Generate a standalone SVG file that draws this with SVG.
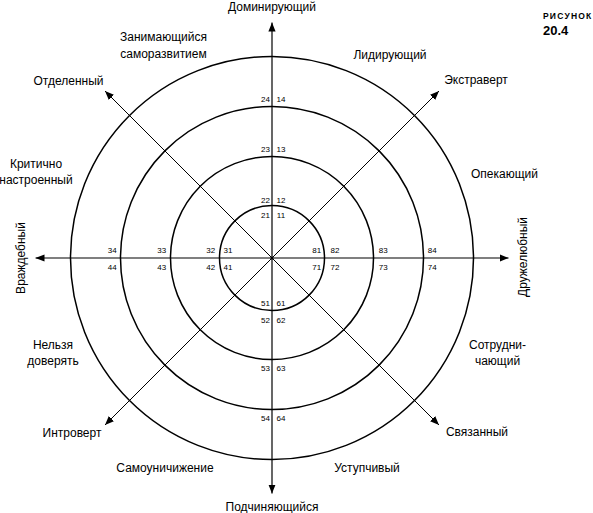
<svg xmlns="http://www.w3.org/2000/svg" width="593" height="513" viewBox="0 0 593 513">
<style>
.ring{fill:none;stroke:#000;stroke-width:1.5}
.ax{stroke:#000;stroke-width:1.2;fill:none}
.dg{stroke:#000;stroke-width:1;fill:none}
.lb{font-family:"Liberation Sans",Arial,sans-serif;font-size:12px;fill:#000;text-anchor:middle}
.nm{font-family:"Liberation Sans",Arial,sans-serif;font-size:8px;fill:#000;text-anchor:middle}
.fig{font-family:"Liberation Sans",Arial,sans-serif;font-weight:bold;fill:#000}
</style>
<defs>
<marker id="ah" viewBox="0 0 10 10" refX="10" refY="5" markerWidth="9" markerHeight="9" markerUnits="userSpaceOnUse" orient="auto">
<path d="M0,1 L10,5 L0,9 Z" fill="#000"/>
</marker>
</defs>
<rect width="593" height="513" fill="#fff"/>
<g id="rings">
<circle class="ring" cx="272" cy="258" r="52.5"/>
<circle class="ring" cx="272" cy="258" r="101.5"/>
<circle class="ring" cx="272" cy="258" r="151.5"/>
<circle class="ring" cx="272" cy="258" r="201.5"/>
</g>
<g id="connectors">
<line class="ax" x1="272" y1="258" x2="272" y2="22.5" marker-end="url(#ah)"/>
<line class="ax" x1="272" y1="258" x2="272" y2="493.5" marker-end="url(#ah)"/>
<line class="ax" x1="272" y1="258" x2="35.5" y2="258" marker-end="url(#ah)"/>
<line class="ax" x1="272" y1="258" x2="508.5" y2="258" marker-end="url(#ah)"/>
<line class="dg" x1="272" y1="258" x2="105" y2="91" marker-end="url(#ah)"/>
<line class="dg" x1="272" y1="258" x2="439" y2="91" marker-end="url(#ah)"/>
<line class="dg" x1="272" y1="258" x2="105" y2="425" marker-end="url(#ah)"/>
<line class="dg" x1="272" y1="258" x2="439" y2="425" marker-end="url(#ah)"/>
<circle cx="272" cy="258" r="1.5" fill="#000"/>
</g>
<g id="numbers">
<text class="nm" x="265.5" y="102.3">24</text><text class="nm" x="281" y="102.3">14</text>
<text class="nm" x="265.5" y="152">23</text><text class="nm" x="281" y="152">13</text>
<text class="nm" x="265.5" y="202.7">22</text><text class="nm" x="281" y="202.7">12</text>
<text class="nm" x="265.5" y="218">21</text><text class="nm" x="281" y="218">11</text>
<text class="nm" x="265.5" y="305.7">51</text><text class="nm" x="281" y="305.7">61</text>
<text class="nm" x="265.5" y="323">52</text><text class="nm" x="281" y="323">62</text>
<text class="nm" x="265.5" y="371.3">53</text><text class="nm" x="281" y="371.3">63</text>
<text class="nm" x="265.5" y="420.7">54</text><text class="nm" x="281" y="420.7">64</text>
<text class="nm" x="112.3" y="253">34</text><text class="nm" x="112.3" y="270">44</text>
<text class="nm" x="161.7" y="253">33</text><text class="nm" x="161.7" y="270">43</text>
<text class="nm" x="210.7" y="253">32</text><text class="nm" x="210.7" y="270">42</text>
<text class="nm" x="228" y="253">31</text><text class="nm" x="228" y="270">41</text>
<text class="nm" x="316.7" y="253">81</text><text class="nm" x="316.7" y="270">71</text>
<text class="nm" x="335" y="253">82</text><text class="nm" x="335" y="270">72</text>
<text class="nm" x="383.3" y="253">83</text><text class="nm" x="383.3" y="270">73</text>
<text class="nm" x="432.3" y="253">84</text><text class="nm" x="432.3" y="270">74</text>
</g>
<g id="n-dominant"><text class="lb" x="272" y="11">Доминирующий</text></g>
<g id="n-selfdev"><text class="lb" x="163.5" y="41">Занимающийся</text><text class="lb" x="163.5" y="57.5">саморазвитием</text></g>
<g id="n-detached"><text class="lb" x="68.5" y="85">Отделенный</text></g>
<g id="n-leading"><text class="lb" x="390" y="58.5">Лидирующий</text></g>
<g id="n-extravert"><text class="lb" x="476" y="84">Экстраверт</text></g>
<g id="n-critical"><text class="lb" x="36" y="167.5">Критично</text><text class="lb" x="36" y="183.5">настроенный</text></g>
<g id="n-caring"><text class="lb" x="504.5" y="177.5">Опекающий</text></g>
<g id="n-hostile"><text class="lb" transform="translate(24.5,258) rotate(-90)" x="0" y="0">Враждебный</text></g>
<g id="n-friendly"><text class="lb" transform="translate(527,257) rotate(-90)" x="0" y="0">Дружелюбный</text></g>
<g id="n-untrust"><text class="lb" x="53" y="348.5">Нельзя</text><text class="lb" x="53" y="365">доверять</text></g>
<g id="n-coop"><text class="lb" x="497.5" y="348.5">Сотрудни-</text><text class="lb" x="497.5" y="365">чающий</text></g>
<g id="n-introvert"><text class="lb" x="72" y="436.5">Интроверт</text></g>
<g id="n-bound"><text class="lb" x="477" y="436">Связанный</text></g>
<g id="n-selfabase"><text class="lb" x="165" y="471.5">Самоуничижение</text></g>
<g id="n-yielding"><text class="lb" x="367" y="471.5">Уступчивый</text></g>
<g id="n-submissive"><text class="lb" x="272" y="511">Подчиняющийся</text></g>
<g id="caption">
<text class="fig" x="543" y="19" font-size="8.5" letter-spacing="1.2">РИСУНОК</text>
<text class="fig" x="543" y="35" font-size="13">20.4</text>
</g>
</svg>
